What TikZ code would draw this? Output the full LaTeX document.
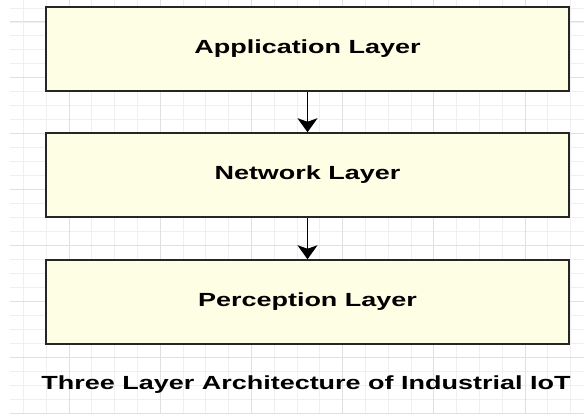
\documentclass[tikz,border=0pt]{standalone}
\usepackage{fontspec}
\setmainfont{Liberation Sans}
\usetikzlibrary{arrows.meta}
\definecolor{boxfill}{HTML}{FEFEE4}
\definecolor{boxline}{HTML}{262626}
\definecolor{gridminor}{HTML}{EFEFEF}
\definecolor{gridmajor}{HTML}{E0E0E0}
% bold label, widened horizontally
\newcommand\widelabel[1]{\scalebox{1.42}[1]{\bfseries #1}}
\begin{document}
\begin{tikzpicture}[x=1pt,y=-1pt,
  layerbox/.style={draw=boxline, line width=2pt, fill=boxfill,
    minimum width=523pt, minimum height=83.5pt, inner sep=0pt,
    font=\fontsize{19}{22}\selectfont},
  flow/.style={draw=black, line width=1.9pt,
    -{Stealth[width=20pt,length=14pt,inset=3.5pt]}},
  caption/.style={inner sep=0pt, font=\fontsize{19}{22}\selectfont}]
\useasboundingbox (0,0) rectangle (584,414);
\fill[white] (0,0) rectangle (584,414);
% background grid: minor lines
\foreach \i in {1,...,25} {\draw[gridminor, line width=0.9pt] ({0.6+22.8*\i},0) -- ++(0,414);}
\foreach \j in {0,...,28} {\draw[gridminor, line width=0.9pt] (10,{8+13.975*\j}) -- (584,{8+13.975*\j});}
% background grid: major lines
\foreach \k in {0,...,5} {\draw[gridmajor, line width=1pt] ({69+91.2*\k},0) -- ++(0,414);}
\foreach \k in {0,...,7} {\draw[gridmajor, line width=1pt] (10,{22+55.9*\k}) -- (584,{22+55.9*\k});}
% layers
\node[layerbox] (app) at (307.5,49) {\widelabel{Application Layer}};
\node[layerbox] (net) at (307.5,175) {\widelabel{Network Layer}};
\node[layerbox] (per) at (307.5,302) {\widelabel{Perception Layer}};
\draw[flow] (app) -- (net);
\draw[flow] (net) -- (per);
\node[caption] (title) at (306,385) {\widelabel{Three Layer Architecture of Industrial IoT}};
\end{tikzpicture}
\end{document}
